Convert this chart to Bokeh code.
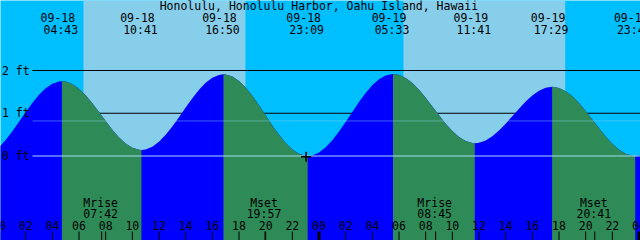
from bokeh.plotting import figure
from bokeh.models import Range1d
from bokeh.core.properties import value
from bokeh.embed import file_html
from bokeh.resources import INLINE

# ---------------- data ----------------
title = "Honolulu, Honolulu Harbor, Oahu Island, Hawaii"

# high / low tide events
ext_date = ["09-18", "09-18", "09-18", "09-18", "09-19", "09-19", "09-19", "09-19"]
ext_clock = ["04:43", "10:41", "16:50", "23:09", "05:33", "11:41", "17:29", "23:43"]
ext_ft = [1.75, 0.14, 1.91, 0.00, 1.92, 0.30, 1.62, 0.00]

# tide height (ft) read every half hour from 09-18 00:00
tide_ft = [
    0.202, 0.374, 0.578, 0.800, 1.025, 1.241, 1.432, 1.585, 1.691, 1.745,
    1.741, 1.683, 1.573, 1.420, 1.235, 1.030, 0.818, 0.616, 0.435, 0.291,
    0.191, 0.144, 0.152, 0.216, 0.333, 0.495, 0.691, 0.909, 1.134, 1.353,
    1.550, 1.713, 1.831, 1.897, 1.907, 1.858, 1.754, 1.600, 1.407, 1.186,
    0.951, 0.716, 0.496, 0.304, 0.153, 0.050, 0.003, 0.014, 0.082, 0.203,
    0.370, 0.571, 0.796, 1.031, 1.261, 1.474, 1.655, 1.796, 1.885, 1.920,
    1.899, 1.826, 1.707, 1.548, 1.362, 1.158, 0.952, 0.755, 0.582, 0.444,
    0.349, 0.304, 0.310, 0.364, 0.461, 0.595, 0.755, 0.930, 1.108, 1.275,
    1.418, 1.529, 1.598, 1.620, 1.593, 1.516, 1.395, 1.237, 1.051, 0.851,
    0.648, 0.455, 0.284, 0.148, 0.052, 0.005, 0.010, 0.072,
]
tide_step_h = 0.5

sun_date = ["09-18", "09-18", "09-19", "09-19"]
sun_clock = ["06:20", "18:29", "06:20", "18:28"]

moon_label = ["Mrise", "Mset", "Mrise", "Mset"]
moon_date = ["09-18", "09-18", "09-19", "09-19"]
moon_clock = ["07:42", "19:57", "08:45", "20:41"]

level_ft = [0, 1, 2]
level_label = ["0 ft", "1 ft", "2 ft"]
msl_ft = 0.82

hour_ticks = list(range(0, 49, 2))

now_date, now_clock, now_ft = "09-18", "23:02", -0.02

# ---------------- helpers ----------------
W, H = 640, 240
PXH = W / 48.0          # pixels per hour
X0 = 1.5                # pixel offset of 09-18 00:00 (left of edge)
PXFT = 42.75            # pixels per foot
Y0 = 155.5              # screen row of 0 ft


def hours(d, c):
    day = int(d.split("-")[1]) - 18
    hh, mm = c.split(":")
    return day * 24 + int(hh) + int(mm) / 60.0


def xpx(px):
    return (px + X0) / PXH


def ypx(row):
    return (Y0 - row) / PXFT


FONT = value("DejaVu Sans Mono")
FS = "11.5px"

p = figure(width=W, height=H, output_backend="svg", toolbar_location=None,
           x_range=Range1d(xpx(0), xpx(W)), y_range=Range1d(ypx(H), ypx(0)),
           min_border=0, outline_line_color=None,
           background_fill_color="#00BFFF", border_fill_color="#00BFFF")
p.axis.visible = False
p.grid.visible = False

# day bands
sun_t = [hours(d, c) for d, c in zip(sun_date, sun_clock)]
p.quad(left=sun_t[0::2], right=sun_t[1::2], bottom=ypx(H), top=ypx(0),
       fill_color="#87CEEB", line_color=None)

# level lines (behind the tide)
for lv in level_ft:
    if lv != 0:
        p.segment(x0=xpx(32), y0=lv, x1=xpx(W), y1=lv, line_color="black", line_width=1)

# tide curve fills
ext_t = [hours(d, c) for d, c in zip(ext_date, ext_clock)]
pts = [(i * tide_step_h, v) for i, v in enumerate(tide_ft)] + list(zip(ext_t, ext_ft))
pts.sort()
all_t = [a for a, _ in pts]
all_v = [b for _, b in pts]
bottom = ypx(H) - 0.5
p.varea(x=all_t, y1=[bottom] * len(all_t), y2=all_v, fill_color="#0000FF")
bounds = [all_t[0]] + ext_t + [all_t[-1]]
for a, b in zip(bounds[:-1], bounds[1:]):
    seg = [(t, v) for t, v in pts if a <= t <= b]
    if seg[-1][1] < seg[0][1]:
        p.varea(x=[s[0] for s in seg], y1=[bottom] * len(seg), y2=[s[1] for s in seg],
                fill_color="#2E8B57")

# MSL and datum lines (over the tide)
p.segment(x0=xpx(32), y0=msl_ft, x1=xpx(W), y1=msl_ft, line_color="#87CEEB",
          line_alpha=0.45, line_width=1)
p.segment(x0=xpx(32), y0=0, x1=xpx(W), y1=0, line_color="#A6DCF2", line_width=1)

# y labels
p.text(x=[xpx(1.5)] * len(level_ft), y=level_ft, text=level_label, text_font=FONT,
       text_font_size=FS, text_align="left", text_baseline="middle", text_color="black")

# title
p.text(x=[xpx(318.4)], y=[ypx(5.5)], text=[title], text_font=FONT, text_font_size=FS,
       text_align="center", text_baseline="middle", text_color="black")

# event labels
p.text(x=ext_t, y=[ypx(17.3)] * len(ext_t), text=ext_date, text_font=FONT,
       text_font_size=FS, text_align="center", text_baseline="middle", x_offset=-4)
p.text(x=ext_t, y=[ypx(29.8)] * len(ext_t), text=ext_clock, text_font=FONT,
       text_font_size=FS, text_align="center", text_baseline="middle", x_offset=-1)

# moon labels
moon_t = [hours(d, c) for d, c in zip(moon_date, moon_clock)]
p.text(x=moon_t, y=[ypx(202)] * 4, text=moon_label, text_font=FONT,
       text_font_size=FS, text_align="center", text_baseline="middle", x_offset=-1)
p.text(x=moon_t, y=[ypx(213.8)] * 4, text=moon_clock, text_font=FONT,
       text_font_size=FS, text_align="center", text_baseline="middle", x_offset=-1)

# hour labels and ticks
p.text(x=hour_ticks, y=[ypx(225.3)] * len(hour_ticks),
       text=["%02d" % (h % 24) for h in hour_ticks], text_font=FONT, text_font_size=FS,
       text_align="center", text_baseline="middle")
thin = [h for h in hour_ticks if h % 24 != 0] + moon_t
thick = [h for h in hour_ticks if h % 24 == 0]
p.segment(x0=thin, y0=ypx(231), x1=thin, y1=ypx(H), line_color="black", line_width=1)
p.segment(x0=thick, y0=ypx(231), x1=thick, y1=ypx(H), line_color="black", line_width=3)

# current-time mark
p.scatter(x=[hours(now_date, now_clock)], y=[now_ft], marker="cross", size=10,
          line_color="black", line_width=1.5)

open("out.html", "w").write(file_html(p, INLINE))
